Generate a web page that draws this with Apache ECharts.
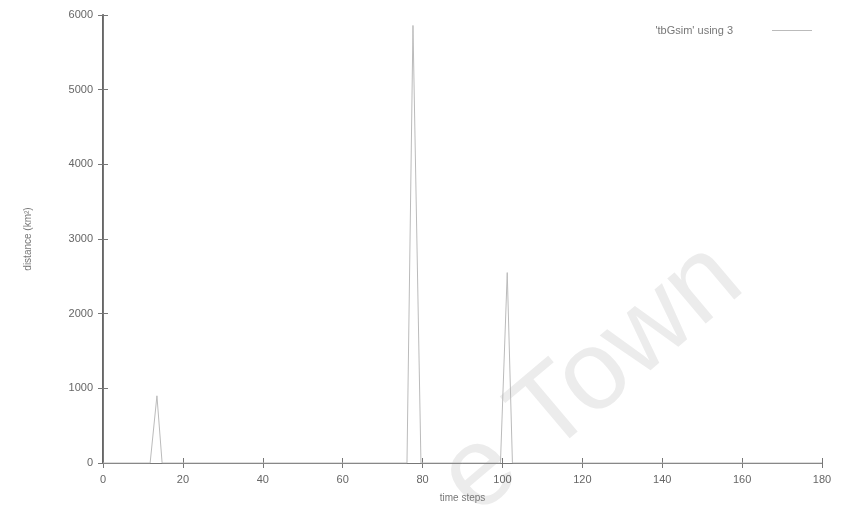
<!DOCTYPE html>
<html>
<head>
<meta charset="utf-8">
<script src="https://cdn.jsdelivr.net/npm/echarts@6/dist/echarts.min.js"></script>
<style>html,body{margin:0;padding:0;background:#fff}#c{width:853px;height:513px}</style>
</head>
<body>
<div id="c"></div>
<script>
// time step values and distance values
const timeSteps = [0, 11.8, 13.5, 14.8, 76.1, 77.6, 79.6, 99.5, 101.2, 102.5, 180];
const distances = [0, 0, 900, 0, 0, 5860, 0, 0, 2550, 0, 0];
const seriesName = "'tbGsim' using 3";
const xTicks = [0, 20, 40, 60, 80, 100, 120, 140, 160, 180];
const yTicks = [0, 1000, 2000, 3000, 4000, 5000, 6000];

const chart = echarts.init(document.getElementById('c'), null, {renderer: 'canvas'});
const FONT = 'Liberation Sans, Arial, sans-serif';
const labelStyle = {color: '#666', fontFamily: FONT, fontSize: 11, formatter: v => String(v)};
const tickStyle = {show: true, inside: true, length: 5, lineStyle: {color: '#777', width: 1}};
const axisLine = {show: true, lineStyle: {color: '#777', width: 1}};

chart.setOption({
  animation: false,
  backgroundColor: '#fff',
  grid: {left: 103, right: 31, top: 15, bottom: 50, show: false},
  legend: {
    show: true,
    right: 36, top: 20,
    align: 'right',
    itemWidth: 40, itemHeight: 1,
    icon: 'rect',
    data: [{name: seriesName}],
    itemStyle: {color: '#bbb'},
    textStyle: {color: '#777', fontFamily: FONT, fontSize: 11, padding: [0, 34, 0, 0]}
  },
  xAxis: [{
    type: 'value', min: xTicks[0], max: xTicks[xTicks.length - 1], interval: 20,
    name: 'time steps', nameLocation: 'middle', nameGap: 30,
    nameTextStyle: {color: '#777', fontFamily: FONT, fontSize: 10},
    axisLine: axisLine, axisTick: tickStyle, splitLine: {show: false},
    axisLabel: Object.assign({margin: 11}, labelStyle)
  }, {
    type: 'value', position: 'top', min: xTicks[0], max: xTicks[xTicks.length - 1], interval: 20,
    axisLine: axisLine, axisTick: tickStyle, splitLine: {show: false}, axisLabel: {show: false}
  }],
  yAxis: [{
    type: 'value', min: yTicks[0], max: yTicks[yTicks.length - 1], interval: 1000,
    name: 'distance (km²)', nameLocation: 'middle', nameGap: 70, nameRotate: 90,
    nameTextStyle: {color: '#777', fontFamily: FONT, fontSize: 10},
    axisLine: {show: true, lineStyle: {color: '#666', width: 2}}, axisTick: tickStyle, splitLine: {show: false},
    axisLabel: Object.assign({margin: 10}, labelStyle)
  }, {
    type: 'value', position: 'right', min: yTicks[0], max: yTicks[yTicks.length - 1], interval: 1000,
    axisLine: axisLine, axisTick: tickStyle, splitLine: {show: false}, axisLabel: {show: false}
  }],
  graphic: [{
    type: 'text', left: 420, top: 222, rotation: 0.7, z: -10, silent: true,
    style: {text: 'e Town', fill: '#ececec', font: '112px Liberation Sans, Arial, sans-serif'}
  }],
  series: [{
    name: seriesName, type: 'line', xAxisIndex: 0, yAxisIndex: 0,
    data: timeSteps.map((t, i) => [t, distances[i]]),
    showSymbol: false, symbol: 'none',
    lineStyle: {color: '#bbb', width: 1},
    itemStyle: {color: '#bbb'}
  }]
});
</script>
</body>
</html>
